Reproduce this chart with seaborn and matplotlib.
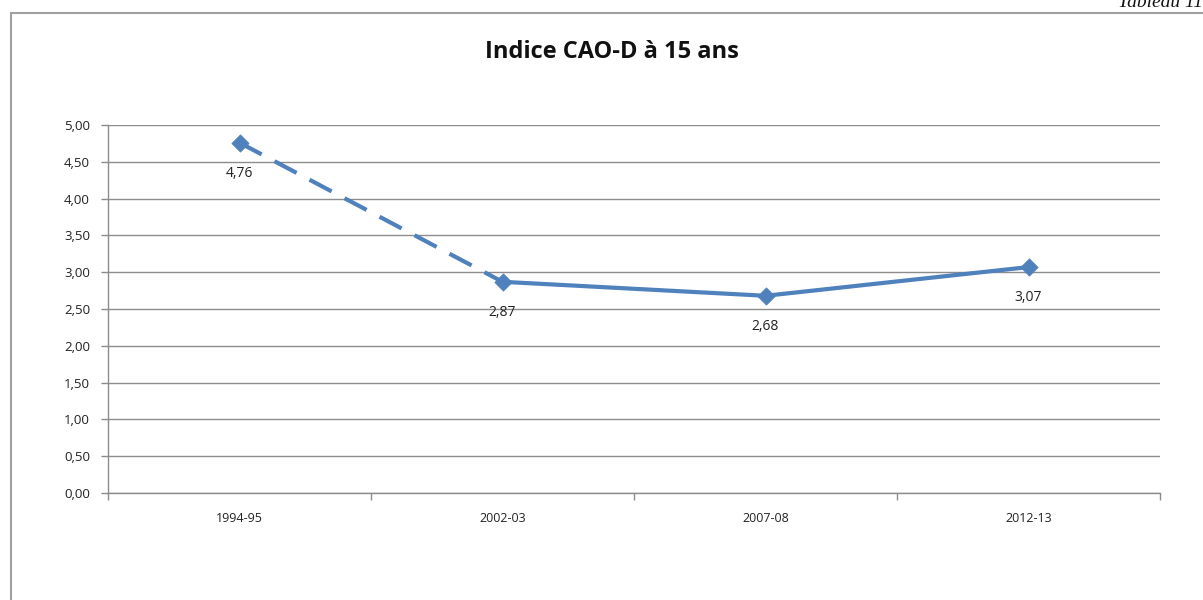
import matplotlib
matplotlib.use('Agg')
import matplotlib.pyplot as plt
import seaborn as sns
import pandas as pd
from matplotlib.patches import Rectangle

# ── Data ─────────────────────────────────────────────────────────────
periods = ["1994-95", "2002-03", "2007-08", "2012-13"]
cao_d = [4.76, 2.87, 2.68, 3.07]
y_ticks = [0.0, 0.5, 1.0, 1.5, 2.0, 2.5, 3.0, 3.5, 4.0, 4.5, 5.0]

BLUE = '#4F81BD'
GRID = '#8C8C8C'

sns.set_theme(style='white')
plt.rcParams['font.family'] = ['Open Sans', 'DejaVu Sans']

df = pd.DataFrame({'period': periods, 'value': cao_d})

fig = plt.figure(figsize=(12.03, 6.0), dpi=100)
ax = fig.add_axes([0.0898, 0.1783, 0.8745, 0.6133])

# dashed part (1994-95 -> 2002-03), solid part afterwards
sns.lineplot(data=df.iloc[:2], x='period', y='value', ax=ax, color=BLUE,
             lw=3, linestyle=(0, (6, 3.5)), sort=False)
sns.lineplot(data=df.iloc[1:], x='period', y='value', ax=ax, color=BLUE,
             lw=3, sort=False)
sns.scatterplot(data=df, x='period', y='value', ax=ax, color=BLUE,
                marker='D', s=75, edgecolor=BLUE, zorder=5)

for i, v in enumerate(cao_d):
    ax.annotate(f'{v:.2f}'.replace('.', ','), (i, v), xytext=(0, -22),
                textcoords='offset points', ha='center', va='center',
                fontsize=10, color='#222222')

ax.set_xlim(-0.5, len(periods) - 0.5)
ax.set_ylim(0, 5)
ax.set_yticks(y_ticks)
ax.set_yticklabels([f'{t:.2f}'.replace('.', ',') for t in y_ticks],
                   fontsize=9.5, color='#222222')
ax.set_xticks(range(len(periods)))
ax.set_xticklabels(periods, fontsize=9, color='#222222')
ax.set_xticks([i + 0.5 for i in range(-1, len(periods))], minor=True)
ax.tick_params(axis='x', which='major', length=0, pad=14)
ax.tick_params(axis='x', which='minor', length=5, width=1, color=GRID,
               direction='out', bottom=True)
ax.tick_params(axis='y', length=5, width=1, color=GRID, direction='out',
               left=True, pad=8)
ax.set_xlabel('')
ax.set_ylabel('')
ax.yaxis.grid(True, color=GRID, lw=1)
ax.set_axisbelow(True)
for side in ['top', 'right']:
    ax.spines[side].set_visible(False)
for side in ['left', 'bottom']:
    ax.spines[side].set_color(GRID)
    ax.spines[side].set_linewidth(1)

fig.text(0.509, 0.913, 'Indice CAO-D à 15 ans', ha='center', va='center',
         fontsize=17, fontweight='bold', color='#111111')

# outer chart frame and the caption above it, clipped by the top edge as in the source
fig.patches.append(Rectangle((11 / 1203, -0.1), 1.2, 1.1 - 13 / 600,
                             transform=fig.transFigure, fill=False,
                             edgecolor='#A0A0A0', lw=1.5))
fig.text(1.0, 1 - 7 / 600, 'Tableau 11', ha='right', va='baseline',
         fontsize=14, style='italic', family='Liberation Serif',
         color='#111111')

fig.savefig('out.png', dpi=100)
